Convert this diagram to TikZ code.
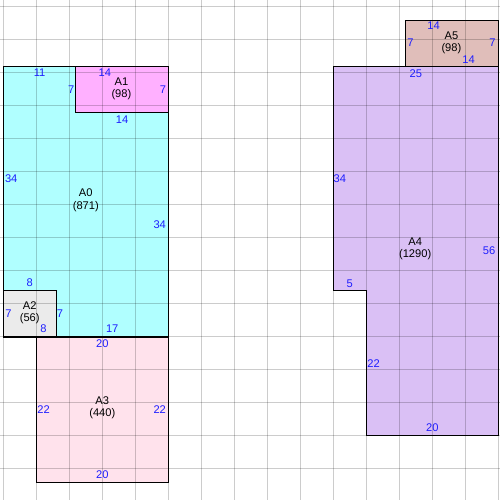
\documentclass[tikz,border=0pt]{standalone}
\usepackage{fontspec}
\setmainfont{Liberation Sans}
\definecolor{fillA0}{RGB}{176,255,255}
\definecolor{fillA1}{RGB}{255,176,255}
\definecolor{fillA2}{RGB}{235,235,235}
\definecolor{fillA3}{RGB}{255,226,236}
\definecolor{fillA4}{RGB}{218,192,245}
\definecolor{fillA5}{RGB}{224,190,186}
\definecolor{lenblue}{RGB}{30,30,255}
\tikzset{
  gridline/.style={black, opacity=0.2, line width=0.45pt},
  wall/.style={draw=black, line width=0.5pt},
  len/.style={text=lenblue, inner sep=0pt},
  areaname/.style={align=center, inner sep=0pt},
}

\begin{document}
\begin{tikzpicture}[x=1mm,y=-1mm,font=\fontsize{4.8}{5.3}\selectfont]
  \useasboundingbox (-0.5,-10.05) rectangle (75.26,65.71);

  % areas
  \fill[fillA0] (0,0) -- (11,0) -- (11,7) -- (25,7) -- (25,41)
    -- (8,41) -- (8,34) -- (0,34) -- cycle;
  \fill[fillA1] (11,0) rectangle (25,7);
  \fill[fillA2] (0,34) rectangle (8,41);
  \fill[fillA3] (5,41) rectangle (25,63);
  \fill[fillA4] (50,0) -- (75,0) -- (75,56) -- (55,56) -- (55,34)
    -- (50,34) -- cycle;
  \fill[fillA5] (61,-7) rectangle (75,0);

  % grid
  \foreach \x in {0,5,...,75}
    \draw[gridline] (\x,-10.05) -- (\x,65.71);
  \foreach \y in {-9,-4,...,61}
    \draw[gridline] (-0.5,\y) -- (75.26,\y);

  % outlines
  \draw[wall] (0,0) -- (11,0) -- (11,7) -- (25,7) -- (25,41)
    -- (8,41) -- (8,34) -- (0,34) -- cycle;
  \draw[wall] (11,0) rectangle (25,7);
  \draw[wall] (0,34) rectangle (8,41);
  \draw[wall] (5,41) rectangle (25,63);
  \draw[wall] (50,0) -- (75,0) -- (75,56) -- (55,56) -- (55,34)
    -- (50,34) -- cycle;
  \draw[wall] (61,-7) rectangle (75,0);

  % A0
  \node[areaname] (nA0) at (12.5,20.3) {A0\\(871)};
  \node[len] (a0t) at (5.5,1.0) {11};
  \node[len] (a0n) at (10.3,3.6) {7};
  \node[len] (a0s) at (18,8.1) {14};
  \node[len] (a0l) at (1.2,17) {34};
  \node[len] (a0r) at (23.7,24) {34};
  \node[len] (a0u) at (4,32.8) {8};
  \node[len] (a0v) at (8.6,37.5) {7};
  \node[len] (a0b) at (16.5,39.8) {17};

  % A1
  \node[areaname] (nA1) at (17.9,3.4) {A1\\(98)};
  \node[len] (a1t) at (15.4,1.0) {14};
  \node[len] (a1r) at (24.2,3.6) {7};

  % A2
  \node[areaname] (nA2) at (4,37.3) {A2\\(56)};
  \node[len] (a2l) at (0.8,37.5) {7};
  \node[len] (a2b) at (6.1,39.8) {8};

  % A3
  \node[areaname] (nA3) at (15,51.7) {A3\\(440)};
  \node[len] (a3t) at (15,42.0) {20};
  \node[len] (a3l) at (6.1,52) {22};
  \node[len] (a3r) at (23.7,52) {22};
  \node[len] (a3b) at (15,61.8) {20};

  % A4
  \node[areaname] (nA4) at (62.4,27.7) {A4\\(1290)};
  \node[len] (a4t) at (62.5,1.05) {25};
  \node[len] (a4l) at (51,17) {34};
  \node[len] (a4r) at (73.6,28) {56};
  \node[len] (a4u) at (52.5,32.9) {5};
  \node[len] (a4v) at (56.1,45) {22};
  \node[len] (a4b) at (65,54.8) {20};

  % A5
  \node[areaname] (nA5) at (67.9,-3.6) {A5\\(98)};
  \node[len] (a5t) at (65.2,-6.1) {14};
  \node[len] (a5l) at (61.7,-3.6) {7};
  \node[len] (a5r) at (74.1,-3.6) {7};
  \node[len] (a5b) at (70.5,-1.05) {14};
\end{tikzpicture}
\end{document}
